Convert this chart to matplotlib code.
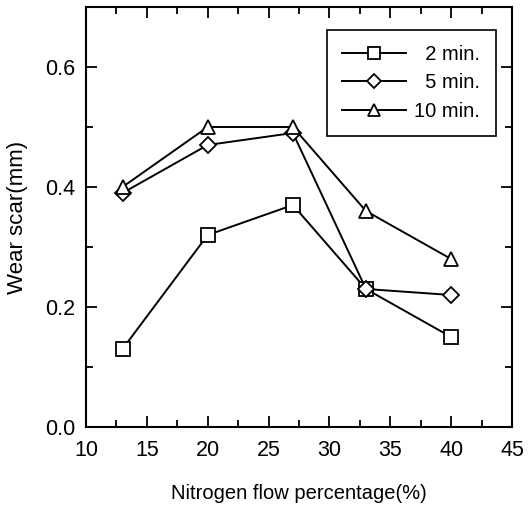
import matplotlib
matplotlib.use('Agg')
import matplotlib.pyplot as plt
from matplotlib.ticker import MultipleLocator

plt.rcParams['font.family'] = ['Liberation Sans', 'DejaVu Sans']

# ── Data ──────────────────────────────────────────────
nitrogen = [13, 20, 27, 33, 40]
wear_2min = [0.13, 0.32, 0.37, 0.23, 0.15]
wear_5min = [0.39, 0.47, 0.49, 0.23, 0.22]
wear_10min = [0.40, 0.50, 0.50, 0.36, 0.28]

# leading spaces keep the labels right-aligned in the legend
series = [
    ("  2 min.", wear_2min, "s", 10),
    ("  5 min.", wear_5min, "D", 8),
    ("10 min.", wear_10min, "^", 10.5),
]

fig = plt.figure(figsize=(5.28, 5.08), dpi=100)
ax = fig.add_axes([86/528, 1 - 427/508, (512-86)/528, (427-7)/508])

for label, vals, mk, ms in series:
    ax.plot(nitrogen, vals, color="black", linewidth=1.4, marker=mk,
            markersize=ms, markerfacecolor="white", markeredgecolor="black",
            markeredgewidth=1.3, label=label)

ax.set_xlim(10, 45)
ax.set_ylim(0.0, 0.7)
ax.xaxis.set_major_locator(MultipleLocator(5))
ax.xaxis.set_minor_locator(MultipleLocator(2.5))
ax.yaxis.set_minor_locator(MultipleLocator(0.1))
ax.set_yticks([0.0, 0.2, 0.4, 0.6])
ax.tick_params(which="both", direction="in", top=True, right=True,
               width=1.3, labelsize=15.5)
ax.tick_params(which="major", length=8)
ax.tick_params(which="minor", length=5)
ax.tick_params(axis="x", which="major", pad=9)
ax.tick_params(axis="y", which="major", pad=8)
for sp in ax.spines.values():
    sp.set_linewidth(1.5)

ax.set_xlabel("Nitrogen flow percentage(%)", fontsize=14.5, labelpad=17)
ax.set_ylabel("Wear scar(mm)", fontsize=16, labelpad=12)

leg = ax.legend(loc="upper right", bbox_to_anchor=(0.985, 0.97), fontsize=14.5,
                frameon=True, fancybox=False, edgecolor="black",
                handlelength=3.2, handletextpad=0.4, borderpad=0.75,
                labelspacing=0.48, markerscale=0.85, framealpha=1)
leg.get_frame().set_linewidth(1.2)

plt.savefig("out.png", dpi=100)
